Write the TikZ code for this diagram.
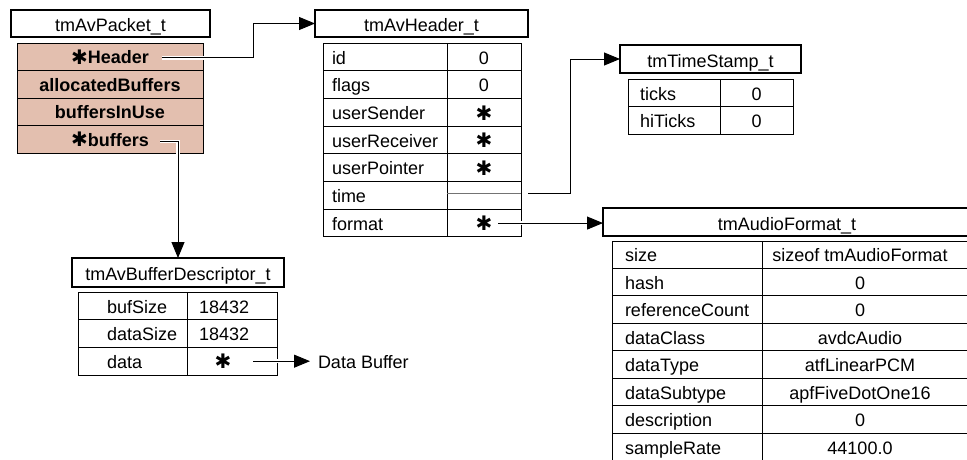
\documentclass[tikz,border=0pt]{standalone}
\usepackage{fontspec}
\setmainfont{Liberation Sans}
\newfontfamily\starfont{DejaVu Sans}
\usetikzlibrary{arrows.meta,calc}
\definecolor{pktfill}{HTML}{E3BFAF}
\newcommand\stx{{\starfont\fontsize{20}{20}\selectfont\raisebox{-0.5pt}{✱}}}
\newcommand\lft[3]{\makebox[#1pt][l]{\hspace*{#2pt}#3}}
\tikzset{
  every node/.style={font=\fontsize{18}{20}\selectfont, inner sep=0pt, outer sep=0pt, text height=14.5pt, text depth=0pt},
  titlebox/.style={draw, line width=1.2pt, anchor=north west, text height=16pt},
  cell/.style={draw, line width=0.9pt, anchor=north west},
  pk/.style={cell, fill=pktfill, font=\fontsize{18}{20}\selectfont\bfseries, minimum width=186pt, minimum height=27.5pt, text height=13.5pt},
  conn/.style={line width=1pt, -{Triangle[length=16pt,width=13pt]},
    preaction={draw=white, line width=3.5pt, -, shorten >=16pt}},
}
\begin{document}
\begin{tikzpicture}[x=1pt,y=-1pt]
\useasboundingbox (0,0) rectangle (967,459);
\clip (0,0) rectangle (967,459);

% tmAvPacket_t
\node[titlebox, minimum width=199pt, minimum height=27pt] (pkt) at (11,10) {tmAvPacket\_t};
\foreach \i/\t in {0/{\stx Header},1/allocatedBuffers,2/buffersInUse,3/{\stx buffers}}{
  \node[pk] (p\i) at ({17},{43+27.5*\i}) {\t};
}

% tmAvHeader_t
\node[titlebox, minimum width=213pt, minimum height=27pt] (avh) at (315,10) {tmAvHeader\_t};
\foreach \i/\k/\v in {0/id/0,1/flags/0,2/userSender/\stx,3/userReceiver/\stx,4/userPointer/\stx,5/time/{},6/format/\stx}{
  \node[cell, minimum height=27.7pt] (hk\i) at ({323},{43+27.7*\i}) {\lft{124}{9}{\k}};
  \node[cell, minimum height=27.7pt, minimum width=74pt] (hv\i) at ({447},{43+27.7*\i}) {\v};
}
\draw[black!55, line width=0.8pt] ([yshift=2pt]hv5.west) -- ([yshift=2pt]hv5.east);

% tmTimeStamp_t
\node[titlebox, minimum width=181pt, minimum height=28pt] (ts) at (620,45) {tmTimeStamp\_t};
\foreach \i/\k/\v in {0/ticks/0,1/hiTicks/0}{
  \node[cell, minimum height=27.5pt] (tk\i) at ({628},{79+27.5*\i}) {\lft{92}{12}{\k}};
  \node[cell, minimum height=27.5pt, minimum width=73pt] (tv\i) at ({720},{79+27.5*\i}) {\v};
}

% tmAudioFormat_t
\node[titlebox, minimum width=368pt, minimum height=28pt] (aud) at (603,208) {tmAudioFormat\_t};
\foreach \i/\k/\v in {0/size/{sizeof tmAudioFormat},1/hash/0,2/referenceCount/0,3/dataClass/avdcAudio,4/dataType/atfLinearPCM,5/dataSubtype/apfFiveDotOne16,6/description/0,7/sampleRate/44100.0}{
  \node[cell, minimum height=27.45pt] (ak\i) at ({612},{241+27.45*\i}) {\lft{150}{13}{\k}};
  \node[cell, minimum height=27.45pt] (av\i) at ({762},{241+27.45*\i}) {\makebox[208pt][l]{\makebox[196pt]{\v}}};
}

% tmAvBufferDescriptor_t
\node[titlebox, minimum width=212pt, minimum height=29pt] (bd) at (72,258) {tmAvBufferDescriptor\_t};
\foreach \i/\k/\v in {0/bufSize/{\lft{90}{12}{18432}},1/dataSize/{\lft{90}{12}{18432}},2/data/{\lft{90}{36}{\makebox[0pt]{\stx}}}}{
  \node[cell, minimum height=27.67pt] (bk\i) at ({78},{292+27.67*\i}) {\lft{109}{29}{\k}};
  \node[cell, minimum height=27.67pt] (bv\i) at ({187},{292+27.67*\i}) {\v};
}
\node[anchor=west, inner xsep=8pt] (dbuf) at (310,361) {Data Buffer};

% connectors
\coordinate (hsrc) at ([xshift=52pt,yshift=-1pt]p0.center);
\coordinate (hbend) at (253,0);
\draw[conn] (hsrc) -- (hsrc -| hbend) |- (avh.west);

\coordinate (bsrc) at ([xshift=50pt,yshift=-2pt]p3.center);
\draw[conn] (bsrc) -| (bd.north);

\coordinate (tsrc) at ([xshift=7pt,yshift=2pt]hv5.east);
\coordinate (tbend) at (570,0);
\draw[conn] (tsrc) -- (tsrc -| tbend) |- (ts.west);

\coordinate (fsrc) at ([xshift=14pt]hv6.center);
\draw[conn] (fsrc) -- (fsrc -| aud.west);

\coordinate (dsrc) at ([xshift=21pt]bv2.center);
\draw[conn] (dsrc) -- (dsrc -| dbuf.west);
\end{tikzpicture}
\end{document}
